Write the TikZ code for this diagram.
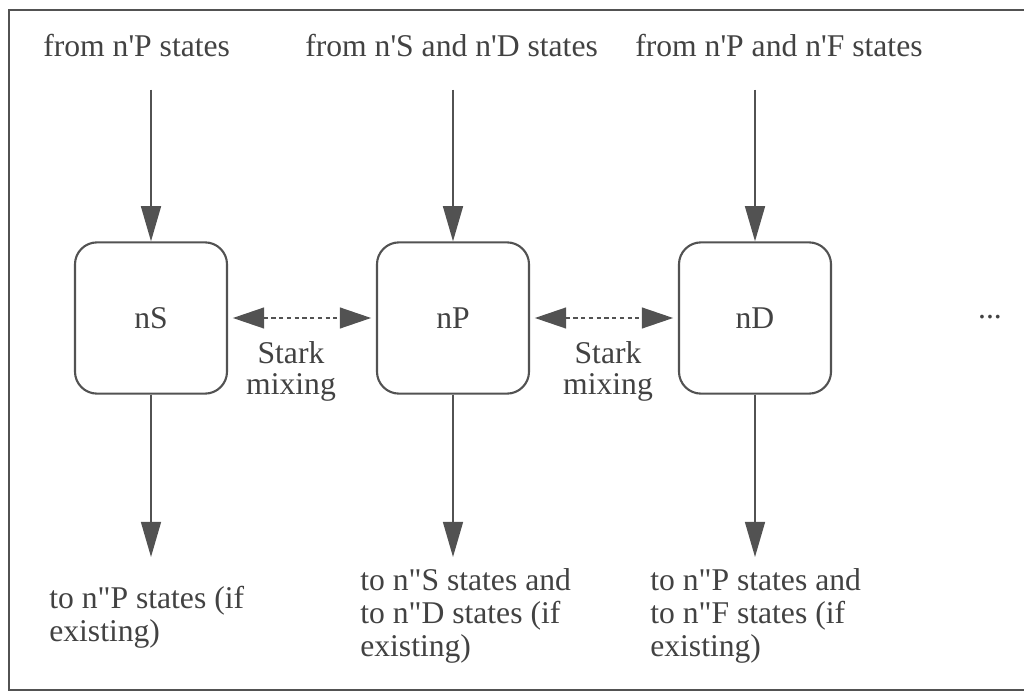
\documentclass[tikz,border=0pt]{standalone}
\usepackage{fontspec}
\setmainfont{Liberation Serif}
\usetikzlibrary{arrows.meta}
\definecolor{ink}{gray}{0.32}
\definecolor{print}{gray}{0.26}
\newcommand{\sq}{\textquotesingle}
\newcommand{\dq}{\textquotedbl}
\begin{document}
\begin{tikzpicture}[x=0.025cm,y=-0.025cm,>={Triangle[length=0.88cm,width=0.5cm]}]
\tikzset{
  level/.style={draw=ink,line width=1.5pt,rounded corners=0.55cm,minimum width=3.8cm,minimum height=3.78cm,inner sep=0pt,text=print,font=\fontsize{22.5}{23.6}\selectfont},
  label/.style={text=print,font=\fontsize{22.5}{23.6}\selectfont,inner sep=0pt},
  feed/.style={->,draw=ink,fill=ink,line width=1.2pt},
  mix/.style={<->,draw=ink,line width=1.2pt,dash pattern=on 3pt off 2.5pt,shorten <=0.12cm,shorten >=0.12cm,>={Triangle[length=0.78cm,width=0.52cm]}}
}
\useasboundingbox (0,0) rectangle (1024,694);
% frame, open on the right
\draw[ink,line width=1.5pt] (1030,10) -| (9,690) -- (1030,690);

% the three levels
\node[level] (nS) at (151,318) {nS};
\node[level] (nP) at (453,318) {nP};
\node[level] (nD) at (755,318) {nD};
\node[label,anchor=base] (more) at (990,319) {...};

% feeding transitions
\node[label,anchor=base west] (fromS) at (43,57) {from n\sq P states};
\node[label,anchor=base west] (fromP) at (305,57) {from n\sq S and n\sq D states};
\node[label,anchor=base west] (fromD) at (635,57) {from n\sq P and n\sq F states};
\coordinate (inS) at (151,90);
\coordinate (inP) at (453,90);
\coordinate (inD) at (755,90);
\draw[feed] (inS) -- (nS);
\draw[feed] (inP) -- (nP);
\draw[feed] (inD) -- (nD);

% Stark mixing between neighbours
\draw[mix] (nS) -- (nP);
\draw[mix] (nP) -- (nD);
\node[label,align=center,font=\fontsize{22.5}{22}\selectfont] (starkL) at (291,371) {Stark\\mixing};
\node[label,align=center,font=\fontsize{22.5}{22}\selectfont] (starkR) at (608,371) {Stark\\mixing};

% decay out of the levels
\coordinate (outS) at (151,557);
\coordinate (outP) at (453,557);
\coordinate (outD) at (755,557);
\draw[feed] (nS) -- (outS);
\draw[feed] (nP) -- (outP);
\draw[feed] (nD) -- (outD);
\node[label,anchor=north west,align=left] (toS) at (49,586) {to n\dq P states (if\\existing)};
\node[label,anchor=north west,align=left] (toP) at (360,568) {to n\dq S states and\\to n\dq D states (if\\existing)};
\node[label,anchor=north west,align=left] (toD) at (650,568) {to n\dq P states and\\to n\dq F states (if\\existing)};
\end{tikzpicture}
\end{document}
